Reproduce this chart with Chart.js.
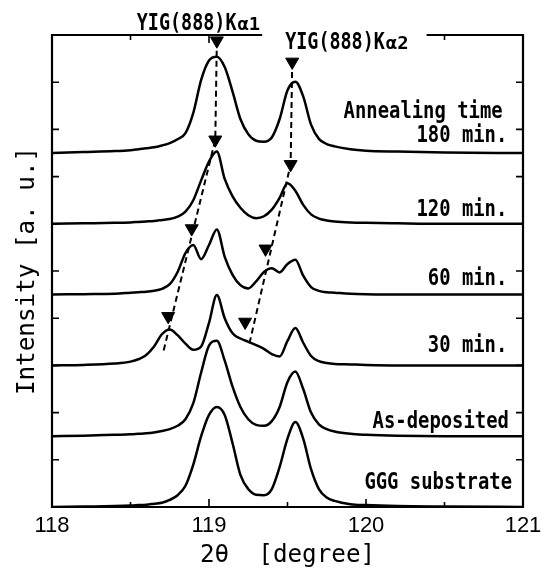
<!DOCTYPE html>
<html>
<head>
<meta charset="utf-8">
<title>YIG(888) scans vs annealing time</title>
<script src="https://cdn.jsdelivr.net/npm/chart.js@4.4.0/dist/chart.umd.min.js"></script>
<style>
  body { margin: 0; background: #fff; }
  canvas { display: block; }
</style>
</head>
<body>
<canvas id="xrdChart" width="548" height="569"></canvas>
<script>
// 2θ grid shared by every scan
const twoTheta = [118.0, 118.2, 118.4, 118.5, 118.55, 118.6, 118.65, 118.7, 118.75, 118.8,
  118.85, 118.9, 118.95, 119.0, 119.05, 119.1, 119.15, 119.2, 119.25, 119.3,
  119.35, 119.4, 119.45, 119.5, 119.55, 119.6, 119.65, 119.7, 119.75, 119.8,
  119.9, 120.0, 120.2, 120.5, 121.0];

// intensity above each scan's own baseline (a.u.)
const scan180 = [0.00, 0.02, 0.04, 0.06, 0.08, 0.10, 0.12, 0.16, 0.21, 0.29,
  0.42, 0.85, 1.55, 1.96, 2.04, 1.82, 1.30, 0.72, 0.40, 0.26,
  0.24, 0.33, 0.72, 1.33, 1.51, 1.20, 0.60, 0.30, 0.19, 0.14,
  0.08, 0.05, 0.03, 0.01, 0.00];
const scan120 = [0.00, 0.01, 0.02, 0.03, 0.04, 0.05, 0.06, 0.08, 0.10, 0.15,
  0.26, 0.50, 0.92, 1.32, 1.53, 0.95, 0.58, 0.34, 0.18, 0.12,
  0.16, 0.30, 0.55, 0.86, 0.70, 0.40, 0.20, 0.11, 0.07, 0.05,
  0.03, 0.02, 0.01, 0.00, 0.00];
const scan60 = [0.00, 0.01, 0.02, 0.04, 0.05, 0.06, 0.08, 0.12, 0.22, 0.48,
  0.88, 1.05, 0.75, 1.05, 1.38, 0.80, 0.42, 0.20, 0.13, 0.28,
  0.48, 0.56, 0.47, 0.65, 0.74, 0.40, 0.16, 0.08, 0.05, 0.04,
  0.02, 0.01, 0.00, 0.00, 0.00];
const scan30 = [0.00, 0.01, 0.04, 0.08, 0.13, 0.22, 0.40, 0.66, 0.76, 0.64,
  0.46, 0.33, 0.40, 0.90, 1.49, 1.00, 0.68, 0.57, 0.50, 0.43,
  0.35, 0.24, 0.19, 0.52, 0.79, 0.48, 0.20, 0.09, 0.05, 0.03,
  0.02, 0.01, 0.00, 0.00, 0.00];
const scanAsDep = [0.00, 0.01, 0.03, 0.04, 0.05, 0.06, 0.08, 0.11, 0.15, 0.22,
  0.36, 0.70, 1.35, 1.92, 2.02, 1.60, 1.05, 0.62, 0.36, 0.24,
  0.22, 0.32, 0.62, 1.15, 1.37, 1.00, 0.50, 0.25, 0.15, 0.10,
  0.05, 0.03, 0.01, 0.00, 0.00];
const scanGGG = [0.00, 0.01, 0.02, 0.03, 0.04, 0.05, 0.07, 0.09, 0.15, 0.25,
  0.45, 0.90, 1.50, 1.95, 2.12, 1.95, 1.35, 0.68, 0.38, 0.26,
  0.25, 0.38, 0.85, 1.45, 1.80, 1.45, 0.80, 0.38, 0.20, 0.13,
  0.06, 0.04, 0.02, 0.01, 0.00];

const scanNames = ['180 min.', '120 min.', '60 min.', '30 min.', 'As-deposited', 'GGG substrate'];
const scans = [scan180, scan120, scan60, scan30, scanAsDep, scanGGG];
const stackOffset = [7.5, 6, 4.5, 3, 1.5, 0];

// ▼ marks on the film Kα1 / Kα2 peaks
const ka1MarkTheta = [119.05, 119.04, 118.89, 118.74];
const ka1MarkLevel = [9.88, 7.78, 5.90, 4.04];
const ka2MarkTheta = [119.53, 119.52, 119.36, 119.23];
const ka2MarkLevel = [9.43, 7.26, 5.47, 3.92];

// dashed guides following the peak shift
const ka1GuideTheta = [119.05, 119.04, 118.71];
const ka1GuideLevel = [9.88, 7.78, 3.30];
const ka2GuideTheta = [119.53, 119.52, 119.26];
const ka2GuideLevel = [9.43, 7.26, 3.50];

const xMajor = [118, 119, 120, 121];
const xMinor = [118.5, 119.5, 120.5];
const yTicks = [1, 2, 3, 4, 5, 6, 7, 8, 9];

// where the scan captions sit: right edge (2θ) and vertical centre (plot units)
const captionRight = [120.9, 120.9, 120.9, 120.9, 120.91, 120.93];
const captionLevel = [7.86, 6.29, 4.83, 3.41, 1.80, 0.51];

const MONO = '"DejaVu Sans Mono"';

function pts(xs, ys, off) {
  return xs.map((x, i) => ({ x: x, y: ys[i] + (off || 0) }));
}

// narrow gothic-looking text: monospace squeezed horizontally
function gothic(ctx, text, x, y, size, squeeze, align, weight) {
  ctx.save();
  ctx.translate(x, y);
  ctx.scale(squeeze, 1);
  ctx.font = (weight || '') + ' ' + size + 'px ' + MONO;
  ctx.textAlign = align || 'left';
  ctx.fillText(text, 0, 0);
  const w = ctx.measureText(text).width * squeeze;
  ctx.restore();
  return w;
}

function peakLabel(ctx, main, sub, x, baseline) {
  ctx.textBaseline = 'alphabetic';
  const w = gothic(ctx, main, x, baseline, 23, 0.8, 'left', 'bold');
  const ws = gothic(ctx, sub, x + w + 1, baseline, 18, 1.05, 'left', 'bold');
  return w + 1 + ws;
}

const frameAndText = {
  id: 'frameAndText',
  afterDatasetsDraw(chart) {
    const { ctx, chartArea: a, scales: { x, y } } = chart;
    ctx.save();
    ctx.fillStyle = '#000';
    ctx.strokeStyle = '#000';

    // Kα captions over the top edge
    peakLabel(ctx, 'YIG(888)K', 'α1', x.getPixelForValue(118.54), a.top - 5);
    const k2x = x.getPixelForValue(119.485);
    const k2w = peakLabel(ctx, 'YIG(888)K', 'α2', k2x, a.top + 14);
    const gapL = k2x - 23, gapR = k2x + k2w + 18;

    // frame, top edge broken under the Kα2 caption
    ctx.lineWidth = 2.2;
    ctx.beginPath();
    ctx.moveTo(gapL, a.top);
    ctx.lineTo(a.left, a.top);
    ctx.lineTo(a.left, a.bottom);
    ctx.lineTo(a.right, a.bottom);
    ctx.lineTo(a.right, a.top);
    ctx.lineTo(gapR, a.top);
    ctx.stroke();

    // inward ticks
    ctx.lineWidth = 1.6;
    ctx.beginPath();
    xMajor.concat(xMinor).forEach(v => {
      const px = x.getPixelForValue(v);
      const len = xMajor.includes(v) ? 8 : 5;
      ctx.moveTo(px, a.bottom);
      ctx.lineTo(px, a.bottom - len);
      if (px < gapL || px > gapR) {
        ctx.moveTo(px, a.top);
        ctx.lineTo(px, a.top + len);
      }
    });
    yTicks.forEach(v => {
      const py = y.getPixelForValue(v);
      ctx.moveTo(a.left, py);
      ctx.lineTo(a.left + 7, py);
      ctx.moveTo(a.right, py);
      ctx.lineTo(a.right - 7, py);
    });
    ctx.stroke();
    ctx.restore();
  },
  afterDraw(chart) {
    const { ctx, chartArea: a, scales: { x, y } } = chart;
    ctx.save();
    ctx.fillStyle = '#000';

    // 2θ tick labels
    ctx.font = '22px "Liberation Sans"';
    ctx.textAlign = 'center';
    ctx.textBaseline = 'middle';
    xMajor.forEach(v => ctx.fillText(String(v), x.getPixelForValue(v), a.bottom + 19));

    // scan captions
    ctx.textBaseline = 'middle';
    gothic(ctx, 'Annealing time', x.getPixelForValue(120.87), y.getPixelForValue(8.37), 23, 0.82, 'right', 'bold');
    scanNames.forEach((name, i) => {
      gothic(ctx, name, x.getPixelForValue(captionRight[i]), y.getPixelForValue(captionLevel[i]), 23, 0.82, 'right', 'bold');
    });

    // axis titles
    gothic(ctx, '2θ  [degree]', (a.left + a.right) / 2, a.bottom + 48, 25, 0.97, 'center');
    ctx.save();
    ctx.translate(a.left - 25, (a.top + a.bottom) / 2);
    ctx.rotate(-Math.PI / 2);
    gothic(ctx, 'Intensity [a. u.]', 0, 0, 25, 0.97, 'center');
    ctx.restore();
    ctx.restore();
  }
};

const marker = {
  showLine: false,
  pointStyle: 'triangle',
  pointRotation: 180,
  pointRadius: 7.5,
  pointHoverRadius: 7.5,
  pointBackgroundColor: '#000',
  pointBorderColor: '#000',
  pointBorderWidth: 1
};
const guide = {
  borderColor: '#000',
  borderWidth: 2,
  borderDash: [6, 4],
  pointRadius: 0,
  tension: 0
};

const datasets = [
  Object.assign({ data: pts(ka1MarkTheta, ka1MarkLevel) }, marker),
  Object.assign({ data: pts(ka2MarkTheta, ka2MarkLevel) }, marker),
  Object.assign({ data: pts(ka1GuideTheta, ka1GuideLevel) }, guide),
  Object.assign({ data: pts(ka2GuideTheta, ka2GuideLevel) }, guide)
];
scans.forEach((s, i) => {
  datasets.push({
    label: scanNames[i],
    data: pts(twoTheta, s, stackOffset[i]),
    borderColor: '#000',
    borderWidth: 2.5,
    pointRadius: 0,
    cubicInterpolationMode: 'monotone'
  });
});

new Chart(document.getElementById('xrdChart').getContext('2d'), {
  type: 'line',
  data: { datasets: datasets },
  options: {
    responsive: false,
    animation: false,
    devicePixelRatio: 1,
    layout: { padding: { left: 52, top: 35, right: 25, bottom: 62 } },
    plugins: { legend: { display: false }, tooltip: { enabled: false } },
    scales: {
      x: { type: 'linear', min: 118, max: 121, display: false },
      y: { type: 'linear', min: 0, max: 10, display: false }
    }
  },
  plugins: [frameAndText]
});
</script>
</body>
</html>
